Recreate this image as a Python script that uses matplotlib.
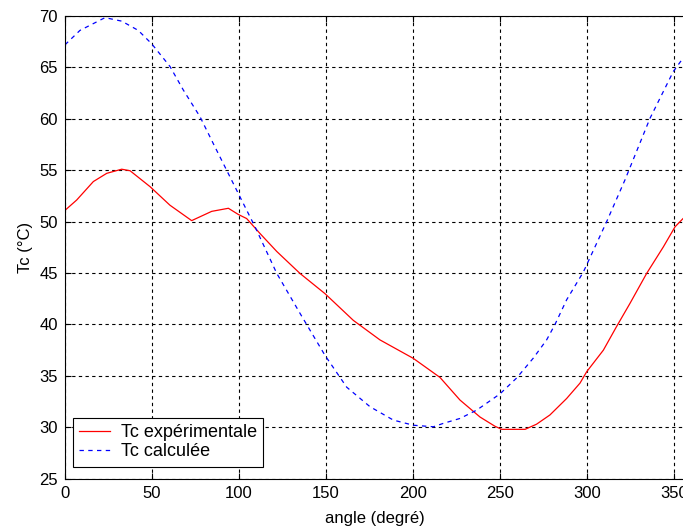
import matplotlib
matplotlib.use("Agg")
import matplotlib.pyplot as plt

# Experimental Tc
exp_angle = [0, 6.7, 16.3, 24, 32.6, 37.4, 48.9, 60.3, 72.8, 84.3, 93.9, 99.6, 104.4,
             112, 121.7, 135, 149.4, 165.7, 181, 200.2, 215.5, 227, 238.5, 247.1,
             251, 264.4, 271, 278.7, 288.3, 296, 299.8, 309.4, 317, 324.7, 334.3,
             343.9, 350.6, 355.2, 360]
exp_tc = [51.1, 52.1, 53.9, 54.7, 55.1, 54.95, 53.4, 51.6, 50.1, 51.0, 51.3, 50.7, 50.3,
          48.86, 47.1, 44.97, 43.0, 40.4, 38.5, 36.7, 34.85, 32.65, 31.0, 30.1,
          29.8, 29.8, 30.3, 31.2, 32.8, 34.3, 35.4, 37.5, 39.8, 42.05, 44.97,
          47.55, 49.5, 50.3, 51.0]

# Calculated Tc
calc_angle = [0, 8.6, 23, 32.6, 42.1, 49.8, 60.3, 68, 77.6, 85.2, 92.9, 100.6, 109.2,
              121.7, 135, 149.4, 161.9, 175.3, 188.7, 200.2, 211.7, 217.4, 227, 236.6,
              246.2, 250, 259.6, 269.2, 276.8, 281.6, 288.3, 297.9, 304.6, 311.3,
              321.8, 336.2, 349.6, 355.2, 360]
calc_tc = [67.2, 68.6, 69.84, 69.5, 68.6, 67.3, 65.1, 62.8, 60.2, 57.6, 55.0, 52.4, 49.5,
           44.97, 41.1, 37.0, 33.9, 32.0, 30.7, 30.2, 30.05, 30.38, 30.86, 31.67,
           32.8, 33.25, 34.8, 36.74, 38.5, 40.0, 42.4, 45.1, 47.55, 50.0,
           54.05, 60.05, 64.6, 65.9, 67.0]

xticks = [0, 50, 100, 150, 200, 250, 300, 350]
yticks = [25, 30, 35, 40, 45, 50, 55, 60, 65, 70]

plt.rcParams['font.family'] = ['Liberation Sans', 'DejaVu Sans']

W, H = 683, 529
fig = plt.figure(figsize=(W / 100, H / 100), dpi=100)
left, right, top, bottom = 65, 691.4, 16, 478.7
axw, axh = right - left, bottom - top
ax = fig.add_axes([left / W, 1 - bottom / H, axw / W, axh / H])

ax.plot(exp_angle, exp_tc, color='#ff0000', lw=0.9, label='Tc expérimentale')
ax.plot(calc_angle, calc_tc, color='#0000ff', lw=0.9, dashes=(3.5, 3.5), label='Tc calculée')

ax.set_xlim(0, 360)
ax.set_ylim(25, 70)
ax.set_xticks(xticks)
ax.set_yticks(yticks)
ax.tick_params(direction='in', length=4, width=0.8, labelsize=12, colors='black',
               top=True, right=True, pad=5)
ax.grid(True, color='black', lw=0.8, dashes=(3, 3))
for s in ax.spines.values():
    s.set_linewidth(0.8)

ax.set_xlabel('angle (degré)', fontsize=12)
ax.set_ylabel('Tc (°C)', fontsize=12)
ax.xaxis.set_label_coords((375 - left) / axw, -0.07)
ax.yaxis.set_label_coords((33 - left) / axw, 0.5)

leg = ax.legend(loc='lower left', bbox_to_anchor=(7.7 / axw, 12 / axh), borderaxespad=0,
                fontsize=13, fancybox=False, framealpha=1, edgecolor='black',
                handlelength=1.72, handletextpad=0.59, borderpad=0.35, labelspacing=0.12)
leg.get_frame().set_linewidth(0.8)

fig.savefig('out.png', dpi=100)
